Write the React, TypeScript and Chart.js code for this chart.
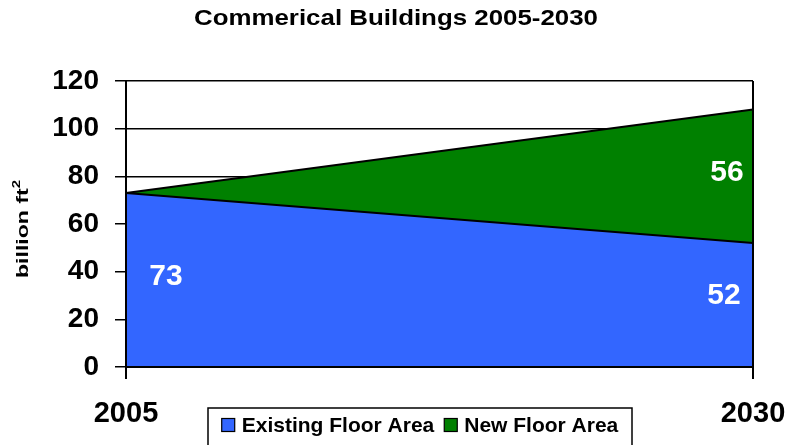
import React, { useEffect, useRef } from "react";
import { Chart, registerables } from "chart.js";

Chart.register(...registerables);

const years = ["2005", "2030"];
const existingFloor = [73, 52];
const newFloor = [0, 56];
const seriesNames = ["Existing Floor Area", "New Floor Area"];
const seriesColors = ["#3366FF", "#008000"];
const titleText = "Commerical Buildings 2005-2030";
const yTitleMain = "billion ft";
const yTitleSup = "2";

const FONT = "'Liberation Sans', Arial, Helvetica, sans-serif";

const valueLabels = {
  id: "valueLabels",
  afterDatasetsDraw(chart: any) {
    const ctx = chart.ctx;
    const x = chart.scales.x;
    const y = chart.scales.y;
    const last = years.length - 1;
    ctx.save();
    ctx.fillStyle = "#ffffff";
    ctx.font = `bold 30px ${FONT}`;
    ctx.textAlign = "center";
    ctx.textBaseline = "middle";
    ctx.fillText(String(existingFloor[0]), x.getPixelForValue(0) + 40, y.getPixelForValue(existingFloor[0] / 2) - 3);
    ctx.fillText(String(existingFloor[last]), x.getPixelForValue(last) - 29, y.getPixelForValue(existingFloor[last] / 2) - 9);
    ctx.fillText(
      String(newFloor[last]),
      x.getPixelForValue(last) - 26,
      y.getPixelForValue(existingFloor[last] + newFloor[last] / 2) - 4
    );
    ctx.restore();
  },
};

const textDecor = {
  id: "textDecor",
  afterDraw(chart: any) {
    const ctx = chart.ctx;
    const area = chart.chartArea;
    ctx.save();
    // Title
    ctx.font = `bold 22px ${FONT}`;
    ctx.fillStyle = "#000";
    ctx.textAlign = "left";
    ctx.textBaseline = "middle";
    const tw = ctx.measureText(titleText).width;
    const targetW = 404;
    const sx = targetW / tw;
    ctx.save();
    ctx.translate(396 - targetW / 2, 19);
    ctx.scale(sx, 1);
    ctx.fillText(titleText, 0, 0);
    ctx.restore();

    // Y axis title, rotated, with superscript
    ctx.save();
    const cy = (area.top + area.bottom) / 2 + 5;
    ctx.translate(22, cy);
    ctx.rotate(-Math.PI / 2);
    ctx.font = `bold 17px ${FONT}`;
    const mw = ctx.measureText(yTitleMain).width;
    ctx.font = `bold 11px ${FONT}`;
    const sw = ctx.measureText(yTitleSup).width;
    const natural = mw + sw;
    const target = 98;
    ctx.scale(target / natural, 1);
    ctx.textAlign = "left";
    ctx.textBaseline = "alphabetic";
    ctx.font = `bold 17px ${FONT}`;
    ctx.fillText(yTitleMain, -natural / 2, 6);
    ctx.font = `bold 11px ${FONT}`;
    ctx.fillText(yTitleSup, -natural / 2 + mw, -2);
    ctx.restore();

    // Boxed legend
    ctx.font = `bold 21px ${FONT}`;
    const sq = 13;
    const gapTxt = 7;
    const gapItem = 10;
    const widths = chart.data.datasets.map((d: any) => ctx.measureText(d.label).width);
    let total = 0;
    widths.forEach((w: number, i: number) => {
      total += sq + gapTxt + w + (i < widths.length - 1 ? gapItem : 0);
    });
    const cx = 420;
    const boxW = 424;
    const boxLeft = cx - boxW / 2;
    const boxTop = area.bottom + 41;
    ctx.strokeStyle = "#000";
    ctx.lineWidth = 1.5;
    ctx.strokeRect(boxLeft, boxTop, boxW, 50);
    let px = cx - total / 2;
    const midY = boxTop + 17;
    chart.data.datasets.forEach((d: any, i: number) => {
      ctx.fillStyle = d.backgroundColor;
      ctx.fillRect(px, midY - sq / 2, sq, sq);
      ctx.strokeStyle = "#000";
      ctx.lineWidth = 1.2;
      ctx.strokeRect(px, midY - sq / 2, sq, sq);
      px += sq + gapTxt;
      ctx.fillStyle = "#000";
      ctx.textAlign = "left";
      ctx.textBaseline = "middle";
      ctx.fillText(d.label, px, midY + 1);
      px += widths[i] + gapItem;
    });
    ctx.restore();
  },
};

export default function App() {
  const ref = useRef<HTMLCanvasElement | null>(null);
  useEffect(() => {
    if (!ref.current) return;
    const chart = new Chart(ref.current, {
      type: "line",
      data: {
        labels: years,
        datasets: [
          {
            label: seriesNames[0],
            data: existingFloor,
            backgroundColor: seriesColors[0],
            borderColor: "#000",
            borderWidth: 2,
            pointRadius: 0,
            fill: "origin",
            tension: 0,
          },
          {
            label: seriesNames[1],
            data: newFloor,
            backgroundColor: seriesColors[1],
            borderColor: "#000",
            borderWidth: 2,
            pointRadius: 0,
            fill: "-1",
            tension: 0,
          },
        ],
      },
      options: {
        responsive: false,
        animation: false,
        devicePixelRatio: 1,
        layout: { padding: { left: 0, right: 0, top: 81, bottom: 0 } },
        plugins: {
          legend: { display: false },
          tooltip: { enabled: false },
          title: { display: false },
        },
        scales: {
          x: {
            type: "category",
            offset: false,
            afterFit: (s: any) => {
              s.height = 78;
              s.paddingRight = 34;
              s.paddingLeft = 0;
            },
            grid: { display: true, color: "#000", lineWidth: 2, tickLength: 12, z: 1 },
            border: { display: true, color: "#000", width: 2, z: 2 },
            ticks: {
              color: "#000",
              padding: 18,
              maxRotation: 0,
              autoSkip: false,
              font: { family: FONT, size: 29, weight: "bold" },
            },
          },
          y: {
            stacked: true,
            min: 0,
            max: 120,
            afterFit: (s: any) => {
              s.width = 126;
            },
            grid: { color: "#000", lineWidth: 1.5, tickLength: 11 },
            border: { display: true, color: "#000", width: 2, z: 2 },
            ticks: {
              stepSize: 20,
              color: "#000",
              padding: 16,
              font: { family: FONT, size: 28, weight: "bold" },
            },
          },
        },
      },
      plugins: [valueLabels, textDecor],
    });
    return () => chart.destroy();
  }, []);
  return (
    <div style={{ position: "fixed", left: 0, top: 0, width: 787, height: 445, background: "#fff" }}>
      <canvas ref={ref} width={787} height={445} />
    </div>
  );
}
